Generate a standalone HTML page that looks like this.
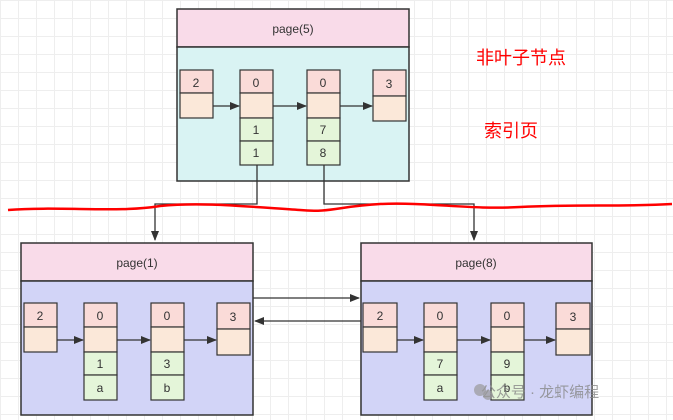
<!DOCTYPE html>
<html><head><meta charset="utf-8"><style>
body{margin:0;width:673px;height:420px;overflow:hidden;background:#fff;
background-image:linear-gradient(#eee 1px,transparent 1px),linear-gradient(90deg,#eee 1px,transparent 1px);background-size:18px 18px;}
svg{position:absolute;left:0;top:0}
text{font-family:"Liberation Sans",sans-serif;font-size:12px;fill:#333;text-anchor:middle}
</style></head><body>
<svg width="673" height="420" xmlns="http://www.w3.org/2000/svg">
<defs><marker id="a" markerWidth="10" markerHeight="8" refX="9" refY="4" orient="auto" markerUnits="userSpaceOnUse"><path d="M0,0L10,4L0,8z" fill="#333"/></marker></defs>
<g stroke="#333" stroke-width="1.5">
<!-- top page -->
<rect x="177" y="9" width="232" height="38" fill="#f9dbe9"/>
<rect x="177" y="47" width="232" height="134" fill="#d9f3f3"/>
<!-- page1 -->
<rect x="21" y="243" width="232" height="38" fill="#f9dbe9"/>
<rect x="21" y="281" width="232" height="134" fill="#d2d4f7"/>
<rect x="361" y="243" width="231" height="38" fill="#f9dbe9"/>
<rect x="361" y="281" width="231" height="134" fill="#d2d4f7"/>
</g>
<text x="293" y="33">page(5)</text>
<text x="137" y="267">page(1)</text>
<text x="476" y="267">page(8)</text>
<g id="cells" stroke="#333" stroke-width="1.2">
<!-- top -->
<rect x="180" y="70" width="33" height="23" fill="#fadbd8"/><rect x="180" y="93" width="33" height="25" fill="#fbe8d9"/>
<rect x="240" y="70" width="33" height="23" fill="#fadbd8"/><rect x="240" y="93" width="33" height="25" fill="#fbe8d9"/><rect x="240" y="118" width="33" height="23" fill="#e4f5d9"/><rect x="240" y="141" width="33" height="24" fill="#e4f5d9"/>
<rect x="307" y="70" width="33" height="23" fill="#fadbd8"/><rect x="307" y="93" width="33" height="25" fill="#fbe8d9"/><rect x="307" y="118" width="33" height="23" fill="#e4f5d9"/><rect x="307" y="141" width="33" height="24" fill="#e4f5d9"/>
<rect x="373" y="70" width="33" height="26" fill="#fadbd8"/><rect x="373" y="96" width="33" height="25" fill="#fbe8d9"/>
<!-- page1 -->
<rect x="24" y="303" width="33" height="24" fill="#fadbd8"/><rect x="24" y="327" width="33" height="25" fill="#fbe8d9"/>
<rect x="84" y="303" width="33" height="24" fill="#fadbd8"/><rect x="84" y="327" width="33" height="25" fill="#fbe8d9"/><rect x="84" y="352" width="33" height="23" fill="#e4f5d9"/><rect x="84" y="375" width="33" height="25" fill="#e4f5d9"/>
<rect x="151" y="303" width="33" height="24" fill="#fadbd8"/><rect x="151" y="327" width="33" height="25" fill="#fbe8d9"/><rect x="151" y="352" width="33" height="23" fill="#e4f5d9"/><rect x="151" y="375" width="33" height="25" fill="#e4f5d9"/>
<rect x="217" y="303" width="33" height="26" fill="#fadbd8"/><rect x="217" y="329" width="33" height="26" fill="#fbe8d9"/>
<!-- page8 -->
<rect x="363" y="303" width="34" height="24" fill="#fadbd8"/><rect x="363" y="327" width="34" height="25" fill="#fbe8d9"/>
<rect x="424" y="303" width="33" height="24" fill="#fadbd8"/><rect x="424" y="327" width="33" height="25" fill="#fbe8d9"/><rect x="424" y="352" width="33" height="23" fill="#e4f5d9"/><rect x="424" y="375" width="33" height="25" fill="#e4f5d9"/>
<rect x="491" y="303" width="33" height="24" fill="#fadbd8"/><rect x="491" y="327" width="33" height="25" fill="#fbe8d9"/><rect x="491" y="352" width="33" height="23" fill="#e4f5d9"/><rect x="491" y="375" width="33" height="25" fill="#e4f5d9"/>
<rect x="556" y="303" width="34" height="26" fill="#fadbd8"/><rect x="556" y="329" width="34" height="26" fill="#fbe8d9"/>
</g>
<g>
<text x="196" y="87">2</text><text x="256" y="87">0</text><text x="323" y="87">0</text><text x="389" y="88">3</text>
<text x="256" y="134">1</text><text x="256" y="157">1</text><text x="323" y="134">7</text><text x="323" y="157">8</text>
<text x="40" y="320">2</text><text x="100" y="320">0</text><text x="167" y="320">0</text><text x="233" y="321">3</text>
<text x="100" y="368">1</text><text x="100" y="392">a</text><text x="167" y="368">3</text><text x="167" y="392">b</text>
<text x="380" y="320">2</text><text x="440" y="320">0</text><text x="507" y="320">0</text><text x="573" y="321">3</text>
<text x="440" y="368">7</text><text x="440" y="392">a</text><text x="507" y="368">9</text><text x="507" y="392">b</text>
</g>
<g stroke="#333" stroke-width="1.3" fill="none" marker-end="url(#a)">
<path d="M213,106H239"/><path d="M273,106H306"/><path d="M340,106H372"/>
<path d="M57,340H83"/><path d="M117,340H150"/><path d="M184,340H216"/>
<path d="M397,340H423"/><path d="M457,340H490"/><path d="M524,340H555"/>
<path d="M257,165V204H155V240"/><path d="M324,165V204H474V240"/>
<path d="M253,298H359"/><path d="M361,321H255"/>
</g>
<path d="M8,210 C60,206 120,213 160,206 C200,202 240,206 300,210 C330,213 340,206 380,204 C430,202 470,210 520,207 C580,204 620,207 672,204" stroke="#f00" stroke-width="2.5" fill="none"/>
<text x="521" y="64" style="font-family:'Liberation Sans','Noto Sans CJK SC',sans-serif;font-size:18px;fill:#f00">非叶子节点</text>
<text x="511" y="137" style="font-family:'Liberation Sans','Noto Sans CJK SC',sans-serif;font-size:18px;fill:#f00">索引页</text>
<text x="540" y="397" style="font-family:'Liberation Sans','Noto Sans CJK SC',sans-serif;font-size:15px;fill:#888;opacity:.8">公众号 · 龙虾编程</text>
<circle cx="480" cy="390" r="6" fill="#999" opacity=".7"/><circle cx="488" cy="395" r="5" fill="#999" opacity=".7"/>
</svg>
</body></html>
